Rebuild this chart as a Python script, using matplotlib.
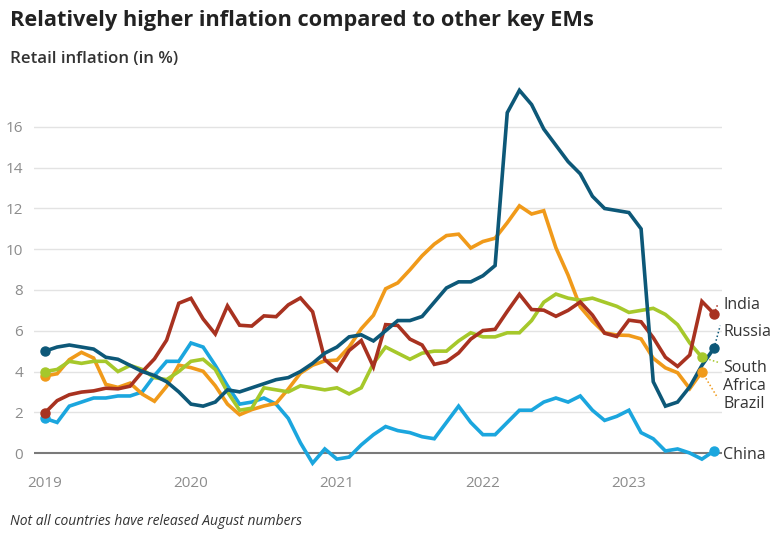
import matplotlib.pyplot as plt
import numpy as np

# monthly retail inflation, Jan 2019 onwards (%)
india = [1.97, 2.57, 2.86, 2.99, 3.05, 3.18, 3.15, 3.28, 3.99, 4.62, 5.54, 7.35,
         7.59, 6.58, 5.84, 7.22, 6.27, 6.23, 6.73, 6.69, 7.27, 7.61, 6.93, 4.59,
         4.06, 5.03, 5.52, 4.23, 6.30, 6.26, 5.59, 5.30, 4.35, 4.48, 4.91, 5.59,
         6.01, 6.07, 6.95, 7.79, 7.04, 7.01, 6.71, 7.00, 7.41, 6.77, 5.88, 5.72,
         6.52, 6.44, 5.66, 4.70, 4.25, 4.81, 7.44, 6.83]
russia = [5.0, 5.2, 5.3, 5.2, 5.1, 4.7, 4.6, 4.3, 4.0, 3.8, 3.5, 3.0,
          2.4, 2.3, 2.5, 3.1, 3.0, 3.2, 3.4, 3.6, 3.7, 4.0, 4.4, 4.9,
          5.2, 5.7, 5.8, 5.5, 6.0, 6.5, 6.5, 6.7, 7.4, 8.1, 8.4, 8.4,
          8.7, 9.2, 16.7, 17.8, 17.1, 15.9, 15.1, 14.3, 13.7, 12.6, 12.0, 11.9,
          11.8, 11.0, 3.5, 2.3, 2.5, 3.25, 4.3, 5.15]
south_africa = [4.0, 4.1, 4.5, 4.4, 4.5, 4.5, 4.0, 4.3, 4.1, 3.7, 3.6, 4.0,
                4.5, 4.6, 4.1, 3.0, 2.1, 2.2, 3.2, 3.1, 3.0, 3.3, 3.2, 3.1,
                3.2, 2.9, 3.2, 4.4, 5.2, 4.9, 4.6, 4.9, 5.0, 5.0, 5.5, 5.9,
                5.7, 5.7, 5.9, 5.9, 6.5, 7.4, 7.8, 7.6, 7.5, 7.6, 7.4, 7.2,
                6.9, 7.0, 7.1, 6.8, 6.3, 5.4, 4.7]
brazil = [3.78, 3.89, 4.58, 4.94, 4.66, 3.37, 3.22, 3.43, 2.89, 2.54, 3.27, 4.31,
          4.19, 4.01, 3.30, 2.40, 1.88, 2.13, 2.31, 2.44, 3.14, 3.92, 4.31, 4.52,
          4.56, 5.20, 6.10, 6.76, 8.06, 8.35, 8.99, 9.68, 10.25, 10.67, 10.74, 10.06,
          10.38, 10.54, 11.30, 12.13, 11.73, 11.89, 10.07, 8.73, 7.17, 6.47, 5.90, 5.79,
          5.77, 5.60, 4.65, 4.18, 3.94, 3.16, 3.99]
china = [1.7, 1.5, 2.3, 2.5, 2.7, 2.7, 2.8, 2.8, 3.0, 3.8, 4.5, 4.5,
         5.4, 5.2, 4.3, 3.3, 2.4, 2.5, 2.7, 2.4, 1.7, 0.5, -0.5, 0.2,
         -0.3, -0.2, 0.4, 0.9, 1.3, 1.1, 1.0, 0.8, 0.7, 1.5, 2.3, 1.5,
         0.9, 0.9, 1.5, 2.1, 2.1, 2.5, 2.7, 2.5, 2.8, 2.1, 1.6, 1.8,
         2.1, 1.0, 0.7, 0.1, 0.2, 0.0, -0.3, 0.1]

years = ["2019", "2020", "2021", "2022", "2023"]

series = [
    ("China", china, "#1ba6de", (55.75, -0.1)),
    ("Brazil", brazil, "#f09a1a", (55.75, 2.42)),
    ("South\nAfrica", south_africa, "#a6c82b", (55.75, 3.72)),
    ("India", india, "#a83220", (55.75, 7.26)),
    ("Russia", russia, "#0d5878", (55.75, 5.94)),
]
# leader line end points (dotted), from last dot towards the label
leaders = {
    "Brazil": (55.3, 2.7),
    "South\nAfrica": (55.5, 4.42),
    "India": (55.3, 7.3),
    "Russia": (55.5, 6.25),
}

fig = plt.figure(figsize=(7.73, 5.52), dpi=100)
ax = fig.add_axes([0.044, 0.1424, 0.890, 0.7014])

ax.set_xlim(-0.9, 55.65)
ax.set_ylim(-1.0, 18)

for v in range(2, 17, 2):
    ax.axhline(v, color="#e3e3e3", lw=1.0, zorder=0)
ax.axhline(0, color="#7a7a7a", lw=1.5, zorder=1)

for name, vals, col, (lx, ly) in series:
    x = np.arange(len(vals))
    ax.plot(x, vals, color=col, lw=2.6, solid_joinstyle="miter", zorder=3)
    ax.plot([x[0], x[-1]], [vals[0], vals[-1]], "o", color=col, ms=6.5, zorder=4)
    if name in leaders:
        ex, ey = leaders[name]
        ax.plot([x[-1], ex], [vals[-1], ey], ls=(0, (1, 1.5)), color=col,
                lw=1.1, zorder=2, clip_on=False)
    ax.text(lx, ly, name, color="#333333", fontsize=11.5, va="center", ha="left",
            family="Open Sans", linespacing=1.2, clip_on=False)

for s in ax.spines.values():
    s.set_visible(False)

ax.set_xticks([0, 12, 24, 36, 48])
ax.set_xticklabels(years)
ax.set_yticks(range(0, 17, 2))
ax.tick_params(length=0, colors="#8c8c8c", labelsize=11)
ax.tick_params(axis="y", pad=8)
ax.tick_params(axis="x", pad=2)
for lbl in ax.get_xticklabels() + ax.get_yticklabels():
    lbl.set_family("Open Sans")

fig.text(0.013, 0.963, "Relatively higher inflation compared to other key EMs",
         fontsize=15.7, fontweight="bold", family="Open Sans", color="#222222",
         va="center", ha="left")
fig.text(0.013, 0.893, "Retail inflation (in %)", fontsize=12.2,
         family="Open Sans", fontweight="semibold", color="#333333",
         va="center", ha="left")
fig.text(0.013, 0.055, "Not all countries have released August numbers",
         fontsize=10, style="italic", family="Open Sans", color="#333333",
         va="center", ha="left")

fig.savefig("out.png", dpi=100, facecolor="white")
